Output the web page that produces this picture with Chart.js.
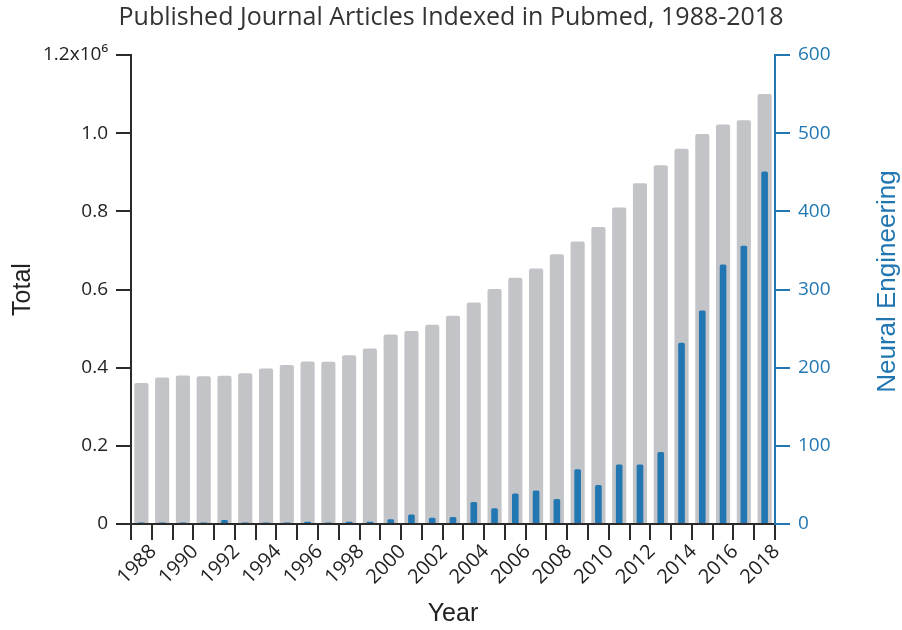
<!DOCTYPE html>
<html>
<head>
<meta charset="utf-8">
<title>Pubmed</title>
<script src="https://cdn.jsdelivr.net/npm/chart.js@4/dist/chart.umd.min.js"></script>
<style>
	html, body { margin: 0; padding: 0; background: #fff; }
	#wrap { width: 902px; height: 630px; }
</style>
</head>
<body>
<div id="wrap"><canvas id="pubmed-chart" width="902" height="630"></canvas></div>
<script>
var years = ['1988', '1989', '1990', '1991', '1992', '1993', '1994', '1995', '1996', '1997',
	'1998', '1999', '2000', '2001', '2002', '2003', '2004', '2005', '2006', '2007',
	'2008', '2009', '2010', '2011', '2012', '2013', '2014', '2015', '2016', '2017', '2018'];

// total articles (millions)
var totalMillions = [0.361, 0.375, 0.380, 0.378, 0.379, 0.386, 0.398, 0.407, 0.416, 0.415,
	0.432, 0.449, 0.485, 0.494, 0.510, 0.533, 0.567, 0.601, 0.630, 0.654,
	0.690, 0.723, 0.760, 0.810, 0.872, 0.918, 0.960, 0.998, 1.022, 1.033, 1.100];

// neural engineering articles (right axis)
var neural = [2, 2, 2, 2, 5, 2, 2, 2, 3, 2,
	3, 3, 6, 12, 8, 9, 28, 20, 39, 43,
	32, 70, 50, 76, 76, 92, 232, 273, 332, 356, 451];

var leftTicks = [0, 0.2, 0.4, 0.6, 0.8, 1.0, 1.2];
var rightTicks = [0, 100, 200, 300, 400, 500, 600];

var blue = '#2277b2';
var grey = '#c3c4c8';
var dark = '#2b2b2b';
var tickFont = { family: '"Open Sans", sans-serif', size: 19 };

var totals = totalMillions.map(function (v) { return v * 1e6; });

// right axis title reads bottom-to-top, chart.js would draw it the other way
var rightTitle = {
	id: 'rightTitle',
	afterDraw: function (chart) {
		var ctx = chart.ctx;
		var area = chart.chartArea;
		ctx.save();
		ctx.translate(888, (area.top + area.bottom) / 2 - 8);
		ctx.rotate(-Math.PI / 2);
		ctx.font = '26px "Liberation Sans", Arial, sans-serif';
		ctx.fillStyle = blue;
		ctx.textAlign = 'center';
		ctx.textBaseline = 'middle';
		ctx.fillText('Neural Engineering', 0, 0);
		ctx.restore();
	}
};

new Chart(document.getElementById('pubmed-chart').getContext('2d'), {
	type: 'bar',
	data: {
		labels: years,
		datasets: [{
			label: 'Neural Engineering',
			data: neural,
			yAxisID: 'y1',
			backgroundColor: blue,
			grouped: false,
			order: 0,
			categoryPercentage: 1,
			barPercentage: 0.32,
			borderRadius: 1.5
		}, {
			label: 'Total',
			data: totals,
			yAxisID: 'y',
			backgroundColor: grey,
			grouped: false,
			order: 1,
			categoryPercentage: 1,
			barPercentage: 0.68,
			borderRadius: 2
		}]
	},
	options: {
		responsive: false,
		animation: false,
		layout: { padding: 0 },
		plugins: {
			legend: { display: false },
			tooltip: { enabled: false },
			title: {
				display: true,
				text: 'Published Journal Articles Indexed in Pubmed, 1988-2018',
				color: '#333',
				font: { family: '"Open Sans", sans-serif', size: 25, weight: 'normal' },
				padding: { top: 3, bottom: 22 }
			}
		},
		scales: {
			x: {
				afterFit: function (scale) { scale.height = 106; },
				border: { color: dark, width: 2 },
				grid: { offset: true, drawOnChartArea: false, tickLength: 16, color: dark, lineWidth: 2 },
				ticks: {
					autoSkip: false,
					minRotation: 45,
					maxRotation: 45,
					labelOffset: 12,
					padding: 0,
					color: '#222',
					font: { family: '"Open Sans", sans-serif', size: 20 },
					callback: function (value, index) {
						return index % 2 === 0 ? years[index] : '';
					}
				},
				title: {
					display: true,
					text: 'Year',
					color: '#222',
					font: { family: '"Liberation Sans", Arial, sans-serif', size: 25 },
					padding: { top: 0, bottom: 1 }
				}
			},
			y: {
				position: 'left',
				min: 0,
				max: 1.2e6,
				afterFit: function (scale) { scale.width = 131; },
				afterBuildTicks: function (scale) {
					scale.ticks = leftTicks.map(function (v) { return { value: v * 1e6 }; });
				},
				border: { color: dark, width: 2 },
				grid: { drawOnChartArea: false, tickLength: 15, color: dark, lineWidth: 2 },
				ticks: {
					padding: 8,
					color: '#222',
					font: tickFont,
					callback: function (value) {
						var m = value / 1e6;
						if (m === 0) return '0';
						if (Math.abs(m - 1.2) < 1e-9) return '1.2x10\u2076';
						return m.toFixed(1);
					}
				},
				title: {
					display: true,
					text: 'Total',
					color: '#222',
					font: { family: '"Liberation Sans", Arial, sans-serif', size: 25 },
					padding: { top: 8, bottom: 0 }
				}
			},
			y1: {
				position: 'right',
				min: 0,
				max: 600,
				afterFit: function (scale) { scale.width = 127; },
				afterBuildTicks: function (scale) {
					scale.ticks = rightTicks.map(function (v) { return { value: v }; });
				},
				border: { color: blue, width: 2 },
				grid: { drawOnChartArea: false, tickLength: 15, color: blue, lineWidth: 2 },
				ticks: {
					padding: 8,
					color: blue,
					font: tickFont
				}
			}
		}
	},
	plugins: [rightTitle]
});
</script>
</body>
</html>
